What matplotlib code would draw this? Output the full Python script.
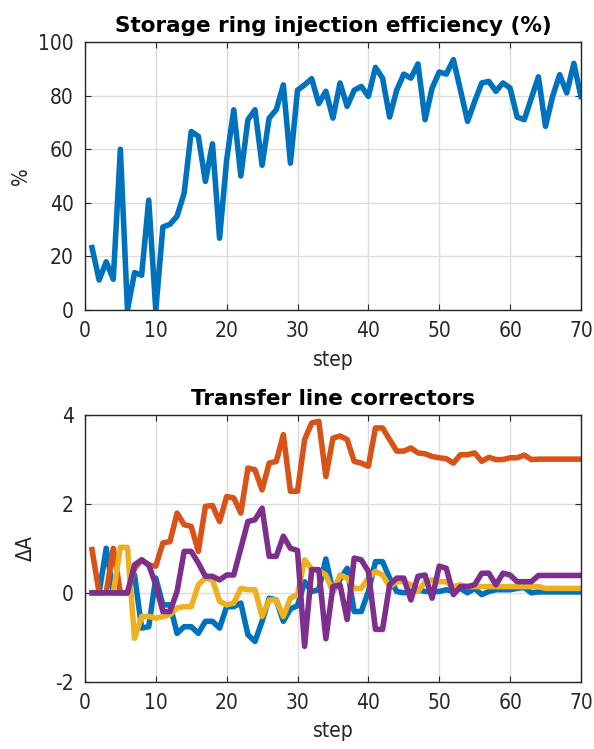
import numpy as np
import matplotlib
matplotlib.use("Agg")
import matplotlib.pyplot as plt

plt.rcParams['font.family'] = ['DejaVu Sans']
plt.rcParams['font.stretch'] = 'condensed'
plt.rcParams['axes.unicode_minus'] = False

steps = list(range(1, 71))

efficiency = [23.3, 11.2, 18.0, 11.5, 60.0, 0.0, 14.0, 13.0, 41.0, 0.0,
              31.0, 32.0, 35.0, 43.6, 66.6, 64.8, 48.0, 62.0, 26.8, 56.0,
              74.7, 50.0, 71.0, 74.7, 54.0, 71.6, 74.7, 84.0, 54.8, 82.0,
              84.0, 86.3, 77.0, 81.6, 71.6, 84.7, 76.0, 82.0, 83.4, 79.7,
              90.5, 86.5, 72.0, 82.0, 88.0, 86.5, 91.8, 71.0, 82.8, 88.8,
              88.0, 93.4, 82.0, 70.4, 77.8, 84.7, 85.3, 81.6, 84.7, 82.8,
              72.0, 71.0, 79.0, 87.0, 68.5, 79.7, 87.8, 81.0, 92.0, 79.7]

corr1 = [0.0, 0.0, 1.0, 0.0, 0.0, 0.0, 0.4, -0.79, -0.76, 0.33,
         -0.27, -0.27, -0.91, -0.76, -0.76, -0.91, -0.64, -0.64, -0.79, -0.31,
         -0.31, -0.23, -0.94, -1.09, -0.64, -0.12, -0.16, -0.64, -0.36, -0.29,
         0.25, 0.03, 0.07, 0.76, 0.03, 0.3, 0.55, -0.42, -0.42, 0.03,
         0.7, 0.7, 0.33, 0.03, 0.0, 0.03, 0.07, 0.03, 0.03, 0.03,
         0.07, 0.03, 0.1, 0.0, 0.1, -0.04, 0.03, 0.07, 0.07, 0.07,
         0.1, 0.12, 0.0, 0.02, 0.02, 0.02, 0.02, 0.02, 0.02, 0.02]

corr2 = [0.97, 0.0, 0.0, 1.0, 0.0, 0.0, 0.55, 0.74, 0.62, 0.6,
         1.12, 1.15, 1.79, 1.53, 1.49, 0.93, 1.94, 1.96, 1.6, 2.16,
         2.13, 1.79, 2.8, 2.76, 2.31, 2.91, 2.95, 3.55, 2.28, 2.28,
         3.44, 3.81, 3.85, 2.61, 3.47, 3.52, 3.44, 2.95, 2.91, 2.84,
         3.7, 3.7, 3.44, 3.18, 3.18, 3.25, 3.14, 3.12, 3.06, 3.03,
         3.01, 2.91, 3.1, 3.1, 3.14, 2.95, 3.04, 2.99, 2.99, 3.03,
         3.03, 3.09, 2.99, 3.0, 3.0, 3.0, 3.0, 3.0, 3.0, 3.0]

corr3 = [0.0, 0.0, 0.0, 0.0, 1.02, 1.02, -1.02, -0.53, -0.53, -0.57,
         -0.53, -0.49, -0.34, -0.31, -0.31, 0.18, 0.33, 0.29, -0.19, -0.27,
         -0.23, 0.1, 0.07, 0.07, -0.53, -0.16, -0.16, -0.53, -0.12, -0.04,
         0.74, 0.53, 0.5, 0.4, 0.03, 0.4, 0.33, 0.1, 0.1, 0.33,
         0.48, 0.4, 0.14, 0.25, 0.25, 0.18, 0.03, 0.25, 0.29, 0.25,
         0.25, 0.14, 0.18, 0.14, 0.14, 0.14, 0.14, 0.14, 0.14, 0.14,
         0.14, 0.14, 0.14, 0.14, 0.1, 0.1, 0.1, 0.1, 0.1, 0.1]

corr4 = [0.0, 0.0, 0.0, 0.0, 0.0, 0.0, 0.63, 0.74, 0.63, 0.18,
         -0.42, -0.42, 0.03, 0.93, 0.93, 0.67, 0.37, 0.37, 0.29, 0.4,
         0.4, 1.0, 1.6, 1.64, 1.9, 0.82, 0.82, 1.27, 1.0, 0.95,
         -1.2, 0.52, 0.52, -1.03, 0.14, 0.18, -0.6, 0.78, 0.74, 0.48,
         -0.82, -0.82, 0.18, 0.33, 0.33, -0.16, 0.37, 0.4, -0.12, 0.6,
         0.55, -0.04, 0.14, 0.14, 0.18, 0.44, 0.44, 0.18, 0.44, 0.4,
         0.25, 0.25, 0.25, 0.39, 0.39, 0.39, 0.39, 0.39, 0.39, 0.39]

colors = ['#0072BD', '#D95319', '#EDB120', '#7E2F8E']
txt = '#262626'
fs = 15

fig = plt.figure(figsize=(5.94, 7.49), dpi=100)
ax1 = fig.add_axes([0.143, 0.586, 0.835, 0.358])
ax2 = fig.add_axes([0.143, 0.0895, 0.835, 0.357])

def style(ax):
    ax.set_xlim(0, 70)
    ax.set_xticks(range(0, 71, 10))
    ax.grid(True, color='#dcdcdc', linewidth=1.0)
    ax.set_axisbelow(True)
    for s in ax.spines.values():
        s.set_color(txt)
        s.set_linewidth(1.0)
    ax.tick_params(direction='in', top=True, right=True, length=4,
                   labelsize=fs, colors=txt, pad=8)
    ax.set_xlabel('step', fontsize=fs, color=txt, labelpad=6)

ax1.plot(steps, efficiency, color=colors[0], linewidth=4.0)
style(ax1)
ax1.set_ylim(0, 100)
ax1.set_yticks(range(0, 101, 20))
ax1.set_ylabel('%', fontsize=fs, color=txt, labelpad=5)
ax1.set_title('Storage ring injection efficiency (%)', fontsize=15.5,
              fontweight='bold', fontstretch='normal', pad=7)

for c, ys in zip(colors, [corr1, corr2, corr3, corr4]):
    ax2.plot(steps, ys, color=c, linewidth=4.0)
style(ax2)
ax2.set_ylim(-2, 4)
ax2.set_yticks([-2, 0, 2, 4])
ax2.set_ylabel(r'$\Delta$A', fontsize=fs, color=txt, labelpad=14)
ax2.set_title('Transfer line correctors', fontsize=15.5, fontweight='bold',
              fontstretch='normal', pad=7)

fig.savefig('out.png', dpi=100)
